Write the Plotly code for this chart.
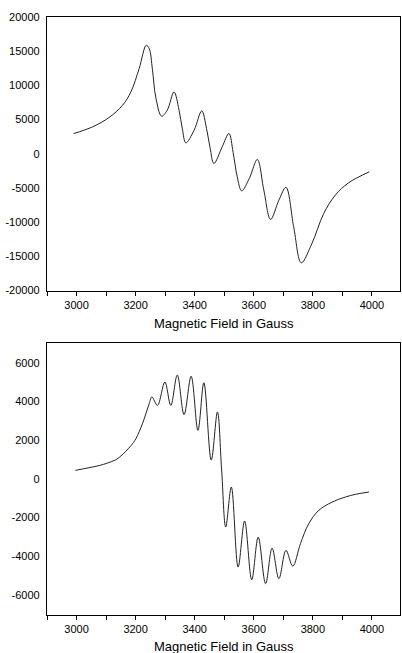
import plotly.graph_objects as go
from plotly.subplots import make_subplots

# top spectrum
field_top = [2990, 3054, 3110, 3156, 3184, 3212, 3236, 3246, 3257, 3268, 3288, 3307, 3330, 3347,
             3358, 3370, 3398, 3424, 3440, 3452, 3465, 3493, 3516, 3530, 3544, 3559, 3585, 3612,
             3634, 3657, 3685, 3709, 3735, 3761, 3797, 3837, 3876, 3921, 3991]
signal_top = [2950, 3930, 5300, 7100, 9040, 12460, 15870, 15380, 12300, 8310, 5490, 6370, 9040,
              6370, 3700, 1590, 3450, 6270, 3700, 900, -1420, 1010, 2970, 200, -3370, -5420,
              -3600, -830, -5320, -9600, -6780, -4920, -10680, -15940, -13100, -8720, -6050,
              -4250, -2640]

# bottom spectrum
field_bot = [2996, 3040, 3077, 3105, 3133, 3150, 3167, 3185, 3201, 3223, 3246, 3255, 3274, 3299,
             3319, 3341, 3364, 3388, 3411, 3431, 3456, 3477, 3491, 3505, 3524, 3547, 3569, 3593,
             3615, 3640, 3662, 3685, 3709, 3732, 3758, 3786, 3820, 3865, 3910, 3944, 3990]
signal_bot = [430, 560, 680, 810, 980, 1170, 1420, 1720, 2070, 2840, 3880, 4230, 3790, 5000,
              3790, 5360, 3310, 5300, 2500, 4960, 960, 3450, 500, -2500, -430, -4570, -2190,
              -5230, -3020, -5430, -3590, -5170, -3710, -4520, -3360, -2330, -1640, -1210, -950,
              -810, -690]

x_ticks = [3000, 3200, 3400, 3600, 3800, 4000]
top_ticks = [-20000, -15000, -10000, -5000, 0, 5000, 10000, 15000, 20000]
bot_ticks = [-6000, -4000, -2000, 0, 2000, 4000, 6000]
x_title = "Magnetic Field in Gauss"

fig = make_subplots(rows=2, cols=1)
fig.add_trace(go.Scatter(x=field_top, y=signal_top, mode="lines", line_shape="spline",
                         line=dict(color="#222", width=1)), row=1, col=1)
fig.add_trace(go.Scatter(x=field_bot, y=signal_bot, mode="lines", line_shape="spline",
                         line=dict(color="#222", width=1)), row=2, col=1)

xstyle = dict(range=[2900, 4095], tickvals=x_ticks, ticktext=[str(v) for v in x_ticks],
              ticks="outside", ticklen=4, tickwidth=1.2, tickcolor="black",
              minor=dict(dtick=100, tick0=3000, ticks="outside", ticklen=4, tickcolor="black"),
              showline=True, linecolor="black", linewidth=1.3, mirror=True,
              showgrid=False, zeroline=False, automargin=False)
ystyle = dict(ticks="outside", ticklen=4, tickcolor="rgba(0,0,0,0)",
              showline=True, linecolor="black", linewidth=1.3, mirror=True,
              showgrid=False, zeroline=False, automargin=False)

fig.update_xaxes(**xstyle)
fig.update_yaxes(**ystyle)
fig.update_yaxes(range=[-20000, 20000], tickvals=top_ticks, ticktext=[str(v) for v in top_ticks],
                 domain=[0.5426, 1.0], row=1, col=1)
fig.update_yaxes(range=[-7050, 7000], tickvals=bot_ticks, ticktext=[str(v) for v in bot_ticks],
                 domain=[0, 0.4543], row=2, col=1)

fig.add_annotation(text=x_title, xref="paper", yref="paper", x=0.5, y=0.4875,
                   yanchor="middle", showarrow=False, font=dict(size=13))
fig.add_annotation(text=x_title, xref="paper", yref="paper", x=0.5, y=-0.053,
                   yanchor="middle", showarrow=False, font=dict(size=13))

fig.update_layout(width=402, height=653, margin=dict(l=47, r=2, t=17, b=38),
                  plot_bgcolor="white", paper_bgcolor="white", showlegend=False,
                  font=dict(family="Liberation Sans, Arial", size=11, color="black"))

# page body has an 8px default margin, drop it so the figure sits at 0,0
fig.write_html("out.html", config={"displayModeBar": False},
               post_script="document.body.style.margin='0';")
